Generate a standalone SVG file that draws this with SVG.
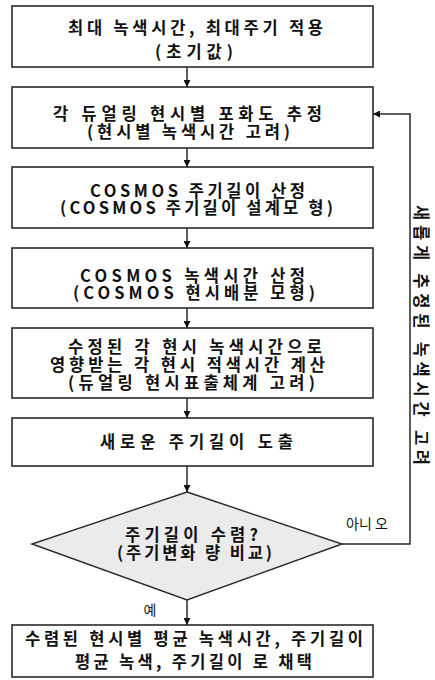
<svg xmlns="http://www.w3.org/2000/svg" width="435" height="680" viewBox="0 0 435 680">
<defs>
<style>
.box{fill:#ffffff;stroke:#2a2a2a;stroke-width:1.6}
.dia{fill:#ebebeb;stroke:#2a2a2a;stroke-width:1.4}
.t{font-family:"Noto Sans CJK KR","Liberation Sans",sans-serif;font-size:16.5px;font-weight:bold;fill:#111;text-anchor:middle}
.s{font-family:"Noto Sans CJK KR","Liberation Sans",sans-serif;font-size:14px;fill:#111;text-anchor:middle}
.c{fill:none;stroke:#2a2a2a;stroke-width:1.5}
</style>
<marker id="ah" viewBox="0 0 10 10" refX="10" refY="5" markerWidth="7" markerHeight="7" markerUnits="userSpaceOnUse" orient="auto">
<path d="M0,0 L10,5 L0,10 z" fill="#111"/>
</marker>
</defs>
<rect width="435" height="680" fill="#ffffff"/>
<g id="connectors">
<line class="c" x1="187" y1="67" x2="187" y2="87" marker-end="url(#ah)"/>
<line class="c" x1="187" y1="148" x2="187" y2="167" marker-end="url(#ah)"/>
<line class="c" x1="187" y1="228" x2="187" y2="248" marker-end="url(#ah)"/>
<line class="c" x1="187" y1="308" x2="187" y2="328" marker-end="url(#ah)"/>
<line class="c" x1="187" y1="398" x2="187" y2="418" marker-end="url(#ah)"/>
<line class="c" x1="187" y1="466" x2="187" y2="492" marker-end="url(#ah)"/>
<line class="c" x1="187" y1="600" x2="187" y2="625" marker-end="url(#ah)"/>
<polyline class="c" points="342,544 410,544 410,114 373,114" marker-end="url(#ah)"/>
<text class="s" x="150" y="615">예</text>
<text class="s" x="367" y="529">아니 오</text>
<text class="t" font-size="18" transform="translate(415,335) rotate(90)" textLength="260" lengthAdjust="spacing">새롭게 추정된 녹색시간 고려</text>
</g>
<g id="n1">
<rect class="box" x="12" y="6" width="361" height="61"/>
<text class="t" x="195.5" y="34" textLength="255" lengthAdjust="spacing">최대 녹색시간, 최대주기 적용</text>
<text class="t" x="194" y="58" textLength="78" lengthAdjust="spacing">(초기값)</text>
</g>
<g id="n2">
<rect class="box" x="12" y="87" width="361" height="61"/>
<text class="t" x="187.5" y="120" textLength="269" lengthAdjust="spacing">각 듀얼링 현시별 포화도 추정</text>
<text class="t" x="188.5" y="138" textLength="203" lengthAdjust="spacing">(현시별 녹색시간 고려)</text>
</g>
<g id="n3">
<rect class="box" x="12" y="167" width="361" height="61"/>
<text class="t" x="197.5" y="197" textLength="215" lengthAdjust="spacing">COSMOS 주기길이 산정</text>
<text class="t" x="196.5" y="214" textLength="273" lengthAdjust="spacing">(COSMOS 주기길이 설계모 형)</text>
</g>
<g id="n4">
<rect class="box" x="12" y="248" width="361" height="60"/>
<text class="t" x="192.5" y="282" textLength="225" lengthAdjust="spacing">COSMOS 녹색시간 산정</text>
<text class="t" x="194" y="299" textLength="242" lengthAdjust="spacing">(COSMOS 현시배분 모형)</text>
</g>
<g id="n5">
<rect class="box" x="12" y="328" width="361" height="70"/>
<text class="t" x="195" y="353" textLength="254" lengthAdjust="spacing">수정된 각 현시 녹색시간으로</text>
<text class="t" x="187.5" y="371" textLength="275" lengthAdjust="spacing">영향받는 각 현시 적색시간 계산</text>
<text class="t" x="191.5" y="389" textLength="247" lengthAdjust="spacing">(듀얼링 현시표출체계 고려)</text>
</g>
<g id="n6">
<rect class="box" x="12" y="418" width="361" height="48"/>
<text class="t" x="196.5" y="448" textLength="193" lengthAdjust="spacing">새로운 주기길이 도출</text>
</g>
<g id="n7">
<polygon class="dia" points="187,492 342,544 187,600 32,544"/>
<text class="t" x="191.5" y="541" textLength="133" lengthAdjust="spacing">주기길이 수렴?</text>
<text class="t" x="194.5" y="559" textLength="155" lengthAdjust="spacing">(주기변화 량 비교)</text>
</g>
<g id="n8">
<rect class="box" x="12" y="625" width="361" height="52"/>
<text class="t" x="194" y="645" textLength="338" lengthAdjust="spacing">수렴된 현시별 평균 녹색시간, 주기길이</text>
<text class="t" x="193.5" y="668" textLength="237" lengthAdjust="spacing">평균 녹색, 주기길이 로 채택</text>
</g>
</svg>
